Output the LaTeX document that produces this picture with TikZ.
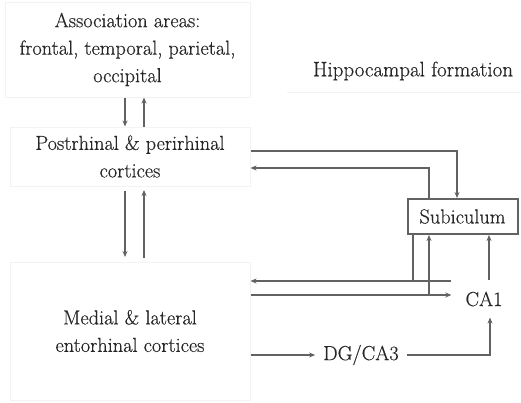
\documentclass[tikz,border=0pt]{standalone}
\usepackage{fontspec}
\setmainfont{Latin Modern Roman}
\newfontfamily\labelface{Latin Modern Roman}[FakeBold=0.4]
\usetikzlibrary{arrows.meta}
\definecolor{ink}{HTML}{262626}
\definecolor{wire}{HTML}{626262}
\definecolor{faint}{HTML}{F3F3F3}
\begin{document}
\begin{tikzpicture}[x=1pt,y=-1pt,
  every node/.style={text=ink,font=\labelface\fontsize{20.3}{27.5}\selectfont,align=center},
  region/.style={draw=faint,line width=1pt,inner sep=0pt},
  plain/.style={inner sep=0pt},
  subbox/.style={draw=wire,line width=2pt,minimum width=110pt,minimum height=35pt,inner sep=0pt},
  link/.style={draw=wire,line width=1.8pt},
  flow/.style={link,-{Stealth[length=6pt,width=5pt]}}]
\useasboundingbox (0,0) rectangle (521,402);

% cortical regions
\node[region,minimum width=245pt,minimum height=95pt] (assoc) at (127.5,49.5)
  {Association areas:\\frontal, temporal, parietal,\\occipital};
\node[region,minimum width=240pt,minimum height=59pt] (post) at (130,156.5)
  {Postrhinal \& perirhinal\\cortices};
\node[region,minimum width=240pt,minimum height=138pt] (ento) at (130,331)
  {Medial \& lateral\\entorhinal cortices};

% hippocampal formation
\node[plain,font=\labelface\fontsize{21}{27.5}\selectfont] (hipp) at (413,71) {Hippocampal formation};
\draw[faint,line width=1pt] (287,92) -- (521,92);
\node[subbox] (sub) at (462.5,216.5) {Subiculum};
\node[inner xsep=14pt,inner ysep=11pt] (ca1) at (484,299) {CA1};
\node[inner xsep=8pt,inner ysep=4pt] (dg) at (361,355) {DG/CA3};

% association areas <-> postrhinal/perirhinal
\draw[flow] (125,0 |- assoc.south) -- (125,0 |- post.north);
\draw[flow] (144,0 |- post.north) -- (144,0 |- assoc.south);

% postrhinal/perirhinal <-> entorhinal
\draw[flow] (125,0 |- post.south) ++(0,4) -- (125,257);
\draw[flow] (144,0 |- ento.north) ++(0,-4) -- (144,190);

% postrhinal/perirhinal <-> subiculum
\draw[flow] (post.east |- 0,151) -| (457,0 |- sub.north);
\draw[flow] (429,0 |- sub.north) |- (post.east |- 0,168);

% subiculum and CA1 -> entorhinal
\draw[flow] (ca1.west |- 0,281) -- (ento.east |- 0,281);
\draw[link] (413,0 |- sub.south) -- (413,281);

% entorhinal -> CA1 and subiculum
\draw[flow] (ento.east |- 0,295) -- (ca1.west |- 0,295);
\draw[flow] (429,295) -- (429,0 |- sub.south);

% CA1 -> subiculum
\draw[flow] (489,0 |- ca1.north) -- (489,0 |- sub.south);

% trisynaptic route through DG/CA3
\draw[flow] (ento.east |- dg.west) -- (dg.west);
\draw[flow] (dg.east) -| (490,0 |- ca1.south);
\end{tikzpicture}
\end{document}
